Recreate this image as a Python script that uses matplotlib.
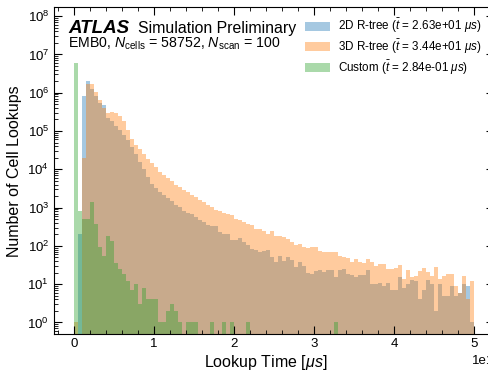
import numpy as np
import matplotlib
matplotlib.use('Agg')
import matplotlib.pyplot as plt
from matplotlib.ticker import LogLocator, MultipleLocator, NullFormatter

plt.rcParams['font.family'] = ['Liberation Sans', 'DejaVu Sans']
plt.rcParams['mathtext.fontset'] = 'custom'
plt.rcParams['mathtext.rm'] = 'Liberation Sans'
plt.rcParams['mathtext.it'] = 'Liberation Sans:italic'
plt.rcParams['mathtext.bf'] = 'Liberation Sans:bold'

# 100 bins of 0.5 us from 0 to 50 us
bin_edges = np.linspace(0, 50, 101)

# counts per bin
counts_2d = [
    0, 200, 800000, 2000000, 1260000, 800000, 525000, 480000, 214000, 178000,
    132000, 107000, 79000, 57500, 38000, 25000, 15800, 10000, 6300, 4170,
    3160, 2570, 2090, 1780, 1480, 1150, 1020, 810, 710, 660,
    560, 480, 410, 360, 330, 330, 224, 200, 204, 145,
    145, 158, 123, 107, 81, 78, 71, 74, 79, 51,
    38, 55, 41, 51, 43, 28, 38, 30, 19, 18,
    22, 23, 21, 23, 23, 15, 23, 25, 18, 17,
    15, 17, 17, 23, 10, 10, 11, 9, 11, 7,
    7, 15, 8, 10, 13, 12, 4, 7, 13, 10,
    2, 10, 5, 5, 9, 5, 6, 10, 9, 1,
]
counts_3d = [
    1, 0, 20000, 1700000, 1700000, 1070000, 630000, 400000, 300000, 320000,
    290000, 240000, 178000, 107000, 63000, 44000, 33000, 25000, 19000, 14500,
    11200, 8500, 6900, 5750, 4900, 4000, 3400, 2950, 2570, 2190,
    1860, 1620, 1410, 1200, 1020, 890, 810, 710, 660, 645,
    500, 480, 430, 380, 355, 275, 275, 245, 210, 245,
    182, 182, 170, 148, 123, 107, 112, 93, 87, 91,
    93, 74, 71, 71, 68, 71, 55, 50, 49, 39,
    45, 37, 35, 45, 37, 30, 33, 33, 25, 25,
    27, 32, 14, 23, 15, 16, 22, 26, 21, 16,
    28, 14, 16, 18, 18, 9, 6, 16, 4, 12,
]
counts_custom = [
    5800000, 800, 500, 500, 1400, 370, 95, 55, 180, 130,
    35, 25, 18, 12, 7, 10, 3, 8, 4, 4,
    4, 1, 1, 2, 3, 2, 1, 0, 1, 1,
    1, 0, 0, 0, 1, 0, 0, 1, 0, 1,
    0, 0, 0, 1, 0, 0, 0, 0, 0, 0,
    0, 0, 0, 0, 0, 0, 0, 0, 0, 0,
    0, 0, 0, 0, 0, 1, 0, 0, 0, 0,
    0, 0, 0, 0, 0, 0, 0, 0, 0, 0,
    0, 0, 0, 0, 0, 0, 0, 0, 0, 0,
    0, 0, 0, 0, 0, 0, 0, 0, 0, 0,
]
labels = [
    r'2D R-tree ($\bar{t}$ = 2.63e+01 $\mu s$)',
    r'3D R-tree ($\bar{t}$ = 3.44e+01 $\mu s$)',
    r'Custom ($\bar{t}$ = 2.84e-01 $\mu s$)',
]
colors = ['tab:blue', 'tab:orange', 'tab:green']

W, H = 488, 373
fig = plt.figure(figsize=(W / 100, H / 100), dpi=100)
ax = fig.add_axes([54 / W, 1 - 334.3 / H, 440 / W, 327 / H])

centers = 0.5 * (bin_edges[:-1] + bin_edges[1:])
for counts, col, lab in zip([counts_2d, counts_3d, counts_custom], colors, labels):
    ax.hist(centers, bins=bin_edges, weights=counts, color=col, alpha=0.4,
            label=lab, log=True)

ax.set_yscale('log')
ax.set_ylim(0.49, 1.7e8)
ax.set_xlim(-2.5, 52.5)
ax.yaxis.set_major_locator(LogLocator(base=10, numticks=20))
ax.yaxis.set_minor_locator(LogLocator(base=10, subs=np.arange(2, 10), numticks=20))
ax.yaxis.set_minor_formatter(NullFormatter())
ax.xaxis.set_major_locator(MultipleLocator(10))
ax.xaxis.set_minor_locator(MultipleLocator(2))
ax.ticklabel_format(axis='x', style='sci', scilimits=(1, 1))
ax.tick_params(which='both', direction='in', top=True, right=True, labelsize=9.5)
ax.tick_params(which='major', length=6)
ax.tick_params(which='minor', length=3)
ax.tick_params(axis='x', pad=3)
ax.xaxis.get_offset_text().set_fontsize(9.5)

ax.set_xlabel(r'Lookup Time [$\mu s$]', fontsize=11.5)
ax.xaxis.set_label_coords(0.482, -0.058)
ax.set_ylabel('Number of Cell Lookups', fontsize=11.5)

ax.text(68 / W, 1 - 33 / H, 'ATLAS', transform=fig.transFigure,
        fontsize=13.5, fontweight='bold', fontstyle='italic', va='baseline')
ax.text(138 / W, 1 - 33 / H, 'Simulation Preliminary', transform=fig.transFigure,
        fontsize=11.4, va='baseline')
ax.text(68 / W, 1 - 47.3 / H,
        r'EMB0, $N_{\mathrm{cells}}$ = 58752, $N_{\mathrm{scan}}$ = 100',
        transform=fig.transFigure, fontsize=10.2, va='baseline')

ax.legend(loc='upper left', bbox_to_anchor=(305 / W, 1 - 17 / H),
          bbox_transform=fig.transFigure, frameon=False, fontsize=8.4,
          borderpad=0, borderaxespad=0, handlelength=2.1, handleheight=0.8,
          labelspacing=0.2, handletextpad=0.75)

fig.savefig('out.png', dpi=100)
